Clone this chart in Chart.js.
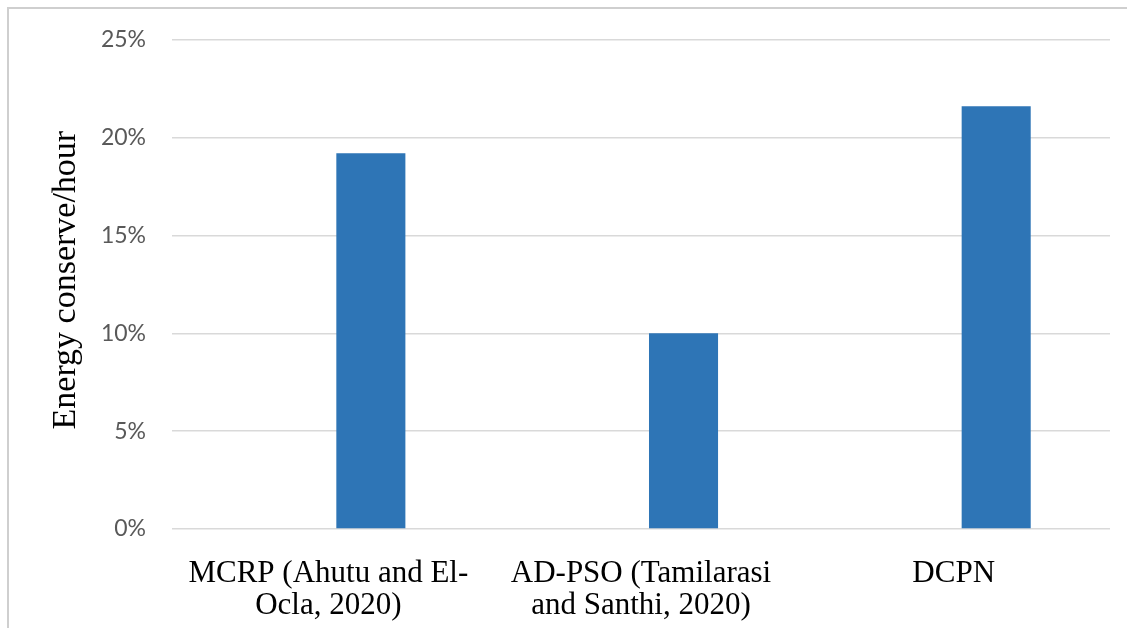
<!DOCTYPE html>
<html>
<head>
<meta charset="utf-8">
<title>Energy conserve/hour</title>
<script src="https://cdn.jsdelivr.net/npm/chart.js@4"></script>
<style>
    html, body { margin: 0; padding: 0; background: #fff; overflow: hidden; }
    #frame {
        position: absolute; left: 7px; top: 7px;
        width: 1200px; height: 700px;
        border-left: 2px solid #cfcfcf;
        border-top: 2px solid #cfcfcf;
    }
    #wrap { position: absolute; left: 0; top: 0; width: 1127px; height: 628px; }
</style>
</head>
<body>
<div id="frame"></div>
<div id="wrap"><canvas id="energyChart"></canvas></div>
<script>
// Methods compared
const categories = [
    ['MCRP (Ahutu and El-', 'Ocla, 2020)'],
    ['AD-PSO (Tamilarasi', 'and Santhi, 2020)'],
    'DCPN'
];

// Energy conserved per hour, in percent
const spacerValues = [null, null, null];
const energyValues = [19.2, 10.0, 21.6];

const yTicks = [0, 5, 10, 15, 20, 25];

document.addEventListener('DOMContentLoaded', function() {
    const ctx = document.getElementById('energyChart');

    new Chart(ctx, {
        type: 'bar',
        data: {
            labels: categories,
            datasets: [{
                label: 'Series1',
                data: spacerValues,
                backgroundColor: 'rgba(0,0,0,0)'
            }, {
                label: 'Energy conserve/hour',
                data: energyValues,
                backgroundColor: '#2e75b6',
                borderWidth: 0
            }]
        },
        options: {
            responsive: true,
            maintainAspectRatio: false,
            animation: false,
            categoryPercentage: 0.544,
            barPercentage: 0.812,
            layout: {
                padding: { left: 0, right: 17, top: 37, bottom: 0 }
            },
            plugins: {
                legend: { display: false },
                tooltip: { enabled: false }
            },
            scales: {
                x: {
                    grid: { display: false, drawTicks: false },
                    border: { display: false },
                    ticks: {
                        color: '#000',
                        font: { family: '"Liberation Serif", "Times New Roman", serif', size: 31, lineHeight: '32px' },
                        padding: 29,
                        maxRotation: 0,
                        autoSkip: false
                    },
                    afterFit: function(scale) { scale.height = 99; }
                },
                y: {
                    min: 0,
                    max: 25,
                    afterBuildTicks: function(scale) {
                        scale.ticks = yTicks.map(function(v) { return { value: v }; });
                    },
                    grid: { color: '#d9d9d9', lineWidth: 1.5, drawTicks: false },
                    border: { display: false },
                    ticks: {
                        color: '#595959',
                        font: { family: 'Lato, "Open Sans", sans-serif', size: 23 },
                        padding: 26,
                        callback: function(v) { return v + '%'; }
                    },
                    title: {
                        display: true,
                        text: ' Energy conserve/hour',
                        color: '#000',
                        font: { family: '"Liberation Serif", "Times New Roman", serif', size: 34 },
                        padding: { top: 46, bottom: 0 }
                    },
                    afterFit: function(scale) { scale.width = 172; }
                }
            }
        }
    });
});
</script>
</body>
</html>
